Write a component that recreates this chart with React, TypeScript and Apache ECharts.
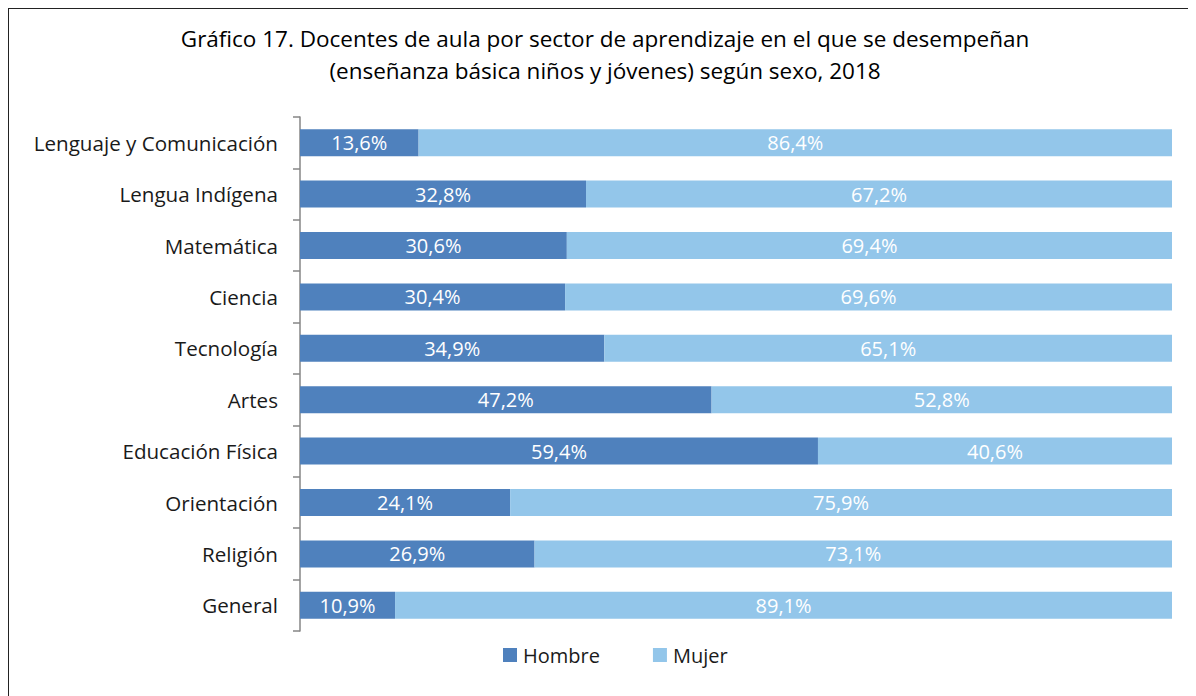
import React, { useEffect, useRef } from "react";
import * as echarts from "echarts";

const categories = [
  "Lenguaje y Comunicación",
  "Lengua Indígena",
  "Matemática",
  "Ciencia",
  "Tecnología",
  "Artes",
  "Educación Física",
  "Orientación",
  "Religión",
  "General",
];
const hombre = [13.6, 32.8, 30.6, 30.4, 34.9, 47.2, 59.4, 24.1, 26.9, 10.9];
const mujer = [86.4, 67.2, 69.4, 69.6, 65.1, 52.8, 40.6, 75.9, 73.1, 89.1];
const titleLines = [
  "Gráfico 17. Docentes de aula por sector de aprendizaje en el que se desempeñan",
  "(enseñanza básica niños y jóvenes) según sexo, 2018",
];

const FONT = "'Open Sans', sans-serif";

export default function App() {
  const ref = useRef<HTMLDivElement>(null);
  useEffect(() => {
    if (!ref.current) return;
    const chart = echarts.init(ref.current, undefined, { renderer: "svg" });
    const fmt = (p: any) => p.value.toFixed(1).replace(".", ",") + "%";
    chart.setOption({
      animation: false,
      title: {
        text: titleLines.join("\n"),
        left: 591,
        top: 8,
        textAlign: "center",
        textStyle: {
          fontFamily: FONT,
          fontSize: 22.5,
          fontWeight: "normal",
          color: "#000",
          lineHeight: 32,
        },
      },
      legend: {
        top: 631,
        left: 489,
        itemWidth: 14,
        itemHeight: 14,
        itemGap: 53,
        icon: "rect",
        textStyle: { fontFamily: FONT, fontSize: 20, color: "#1a1a1a", padding: [0, 0, 0, 1] },
        data: ["Hombre", "Mujer"],
      },
      grid: { left: 291, top: 108, width: 872, height: 514, containLabel: false },
      xAxis: {
        type: "value",
        min: 0,
        max: 100,
        show: false,
      },
      yAxis: {
        type: "category",
        data: categories,
        inverse: true,
        axisLine: { show: true, lineStyle: { color: "#868686", width: 1.5 } },
        axisTick: { show: true, length: 7, lineStyle: { color: "#868686", width: 1.5 } },
        axisLabel: {
          fontFamily: FONT,
          fontSize: 20.6,
          color: "#1a1a1a",
          margin: 22,
        },
      },
      series: [
        {
          name: "Hombre",
          type: "bar",
          stack: "total",
          data: hombre,
          barWidth: 27,
          itemStyle: { color: "#4F81BD" },
          label: {
            show: true,
            position: "inside",
            formatter: fmt,
            color: "#fff",
            fontFamily: FONT,
            fontSize: 20,
          },
        },
        {
          name: "Mujer",
          type: "bar",
          stack: "total",
          data: mujer,
          barWidth: 27,
          itemStyle: { color: "#93C6EA" },
          label: {
            show: true,
            position: "inside",
            formatter: fmt,
            color: "#fff",
            fontFamily: FONT,
            fontSize: 20,
          },
        },
      ],
    });
    return () => chart.dispose();
  }, []);
  return (
    <div
      style={{
        width: 1188,
        height: 688,
        borderTop: "1px solid #222",
        borderLeft: "1px solid #222",
        boxSizing: "border-box",
      }}
    >
      <div ref={ref} style={{ width: 1187, height: 687 }} />
    </div>
  );
}
